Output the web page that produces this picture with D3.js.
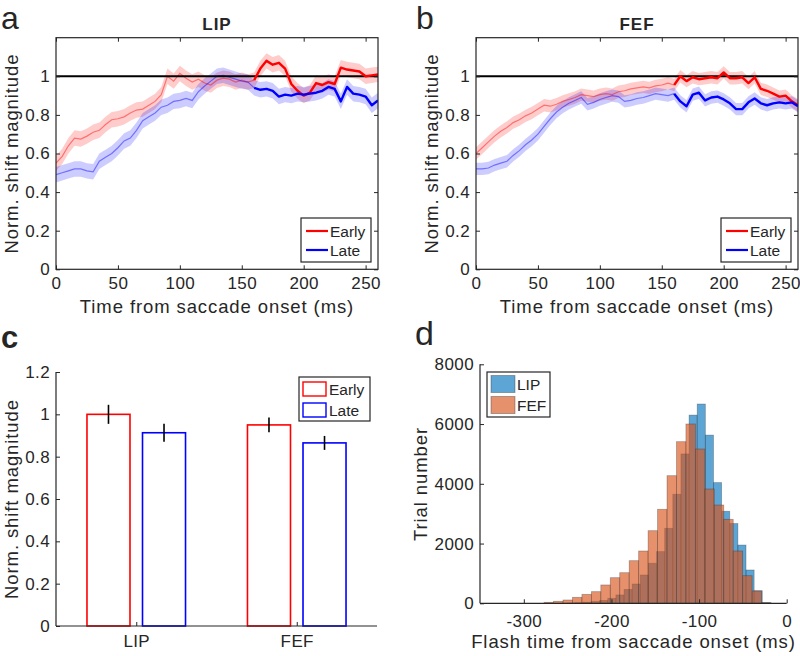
<!DOCTYPE html>
<html><head><meta charset="utf-8">
<script src="https://cdn.jsdelivr.net/npm/d3@7"></script>
<style>
body{margin:0;background:#fff;}
svg text{font-family:"Liberation Sans",Arial,Helvetica,sans-serif;fill:#262626;}
</style></head><body>
<svg id="fig" width="800" height="656" xmlns="http://www.w3.org/2000/svg"></svg>
<script>
// ---------------- DATA ----------------
const timeMs = [0,5,10,15,20,25,30,35,40,45,50,55,60,65,70,75,80,85,90,95,100,105,110,115,120,125,130,135,140,145,150,155,160,165,170,175,180,185,190,195,200,205,210,215,220,225,230,235,240,245,250,255,260];
const lipEarly = [0.55,0.585,0.64,0.68,0.675,0.69,0.71,0.72,0.75,0.775,0.78,0.79,0.81,0.825,0.83,0.85,0.87,0.905,1.0,0.975,1.015,0.99,0.97,0.985,0.965,0.955,0.98,0.99,0.985,0.97,0.98,0.97,0.98,1.04,1.08,1.06,1.07,1.04,0.96,0.925,0.9,0.915,0.965,0.955,0.97,0.96,1.045,1.035,1.03,1.025,1.0,1.005,1.01];
const lipLate  = [0.49,0.5,0.51,0.52,0.52,0.51,0.505,0.56,0.58,0.6,0.63,0.665,0.68,0.72,0.77,0.79,0.81,0.84,0.85,0.87,0.875,0.885,0.875,0.92,0.95,0.975,1.0,1.005,0.995,0.985,0.975,0.97,0.94,0.93,0.935,0.925,0.895,0.905,0.9,0.91,0.905,0.91,0.915,0.925,0.945,0.935,0.87,0.945,0.91,0.905,0.895,0.85,0.875];
const fefEarly = [0.6,0.63,0.66,0.69,0.715,0.735,0.76,0.775,0.795,0.81,0.83,0.85,0.845,0.855,0.87,0.88,0.89,0.905,0.9,0.895,0.905,0.91,0.905,0.92,0.925,0.935,0.94,0.945,0.94,0.95,0.955,0.965,0.955,1.0,0.975,0.995,0.985,0.99,0.995,0.99,1.02,0.99,0.99,0.995,0.965,0.995,0.935,0.925,0.91,0.895,0.9,0.87,0.85];
const fefLate  = [0.52,0.52,0.525,0.54,0.55,0.56,0.59,0.615,0.645,0.67,0.7,0.74,0.78,0.815,0.84,0.86,0.875,0.89,0.855,0.865,0.88,0.89,0.9,0.895,0.87,0.875,0.885,0.89,0.9,0.91,0.905,0.9,0.91,0.87,0.845,0.905,0.915,0.875,0.89,0.895,0.88,0.86,0.83,0.83,0.865,0.885,0.86,0.85,0.86,0.865,0.86,0.865,0.845];
const lipSem = 0.04;
const fefSem = 0.032;
const splitMs = 160;

const timeTicks = [0,50,100,150,200,250];
const shiftTicks = [0,0.2,0.4,0.6,0.8,1];

const barAreas = ["LIP","FEF"];
const barEarly = [1.0, 0.95];
const barLate = [0.913, 0.865];
const barEarlyErr = [0.045, 0.035];
const barLateErr = [0.042, 0.033];
const barTicks = [0,0.2,0.4,0.6,0.8,1,1.2];

const lipBinStart = -250.6, lipBinWidth = 9.28;
const lipCounts = [10,20,35,60,95,167,280,465,646,947,1340,1730,2510,3650,5000,6300,6670,5630,4040,3080,2670,1950,1115,422,20];
const fefBinStart = -276.85, fefBinWidth = 10.79;
const fefCounts = [33,67,111,200,300,390,614,858,1025,1427,1751,2431,3146,4272,5410,6002,5165,3826,3290,2811,1751,924,412,20];
const histXTicks = [-300,-200,-100,0];
const histYTicks = [0,2000,4000,6000,8000];

// ---------------- STYLE ----------------
const AX = "#262626";
const RED = "#ff0000", BLUE = "#0000ff";
const tickFont = "17px", labelFont = "18.5px";
const svg = d3.select("#fig");

function styleAxis(g){
  g.select(".domain").remove();
  g.selectAll(".tick line").attr("stroke", AX).attr("stroke-width", 1);
  g.selectAll(".tick text").style("font-size", tickFont).style("letter-spacing","0.4px").attr("fill", AX);
}

// ---------------- TIME PANELS ----------------
function timePanel(x0, x1, early, late, sem, title, letter, letterX, ylabX){
  const x = d3.scaleLinear().domain([0,260]).range([x0,x1]);
  const y = d3.scaleLinear().domain([0,1.2]).range([269.3,37.7]);
  const g = svg.append("g");
  const clipId = "clip" + letter;
  svg.append("clipPath").attr("id", clipId).append("rect")
    .attr("x", x0).attr("y", y(1.2)).attr("width", x1-x0).attr("height", y(0)-y(1.2));
  const pg = g.append("g").attr("clip-path", `url(#${clipId})`);
  const pts = s => timeMs.map((t,i)=>({t, v:s[i]}));
  const area = d3.area().x(d=>x(d.t)).y0(d=>y(d.v-sem)).y1(d=>y(d.v+sem));
  const line = d3.line().x(d=>x(d.t)).y(d=>y(d.v));
  pg.append("path").attr("d", area(pts(early))).attr("fill", RED).attr("fill-opacity", 0.2);
  pg.append("path").attr("d", area(pts(late))).attr("fill", BLUE).attr("fill-opacity", 0.2);
  pg.append("path").attr("d", line(pts(early).filter(d=>d.t<=splitMs))).attr("fill","none").attr("stroke",RED).attr("stroke-opacity",0.45).attr("stroke-width",1.2);
  pg.append("path").attr("d", line(pts(late).filter(d=>d.t<=splitMs))).attr("fill","none").attr("stroke",BLUE).attr("stroke-opacity",0.45).attr("stroke-width",1.2);
  pg.append("line").attr("x1",x0).attr("x2",x1).attr("y1",y(1)).attr("y2",y(1)).attr("stroke","#000").attr("stroke-width",2);
  pg.append("path").attr("d", line(pts(early).filter(d=>d.t>=splitMs))).attr("fill","none").attr("stroke",RED).attr("stroke-width",2.4).attr("stroke-linejoin","round");
  pg.append("path").attr("d", line(pts(late).filter(d=>d.t>=splitMs))).attr("fill","none").attr("stroke",BLUE).attr("stroke-width",2.4).attr("stroke-linejoin","round");
  // box
  g.append("rect").attr("x",x0).attr("y",y(1.2)).attr("width",x1-x0).attr("height",y(0)-y(1.2))
    .attr("fill","none").attr("stroke",AX).attr("stroke-width",1.2);
  // axes
  const ab = g.append("g").attr("transform",`translate(0,${y(0)})`)
    .call(d3.axisBottom(x).tickValues(timeTicks).tickSize(-4).tickPadding(8));
  styleAxis(ab);
  const at = g.append("g").attr("transform",`translate(0,${y(1.2)})`)
    .call(d3.axisTop(x).tickValues(timeTicks).tickSize(-4).tickFormat(""));
  styleAxis(at);
  const al = g.append("g").attr("transform",`translate(${x0},0)`)
    .call(d3.axisLeft(y).tickValues(shiftTicks).tickSize(-4).tickPadding(6).tickFormat(d3.format("~g")));
  styleAxis(al);
  const ar = g.append("g").attr("transform",`translate(${x1},0)`)
    .call(d3.axisRight(y).tickValues(shiftTicks).tickSize(-4).tickFormat(""));
  styleAxis(ar);
  // labels
  g.append("text").attr("x",(x0+x1)/2).attr("y",313).attr("text-anchor","middle")
    .style("font-size",labelFont).style("letter-spacing","0.9px").text("Time from saccade onset (ms)");
  g.append("text").attr("transform",`translate(${ylabX},${(y(0)+y(1.2))/2}) rotate(-90)`).attr("text-anchor","middle")
    .style("font-size",labelFont).style("letter-spacing","0.9px").text("Norm. shift magnitude");
  g.append("text").attr("x",(x0+x1)/2).attr("y",30).attr("text-anchor","middle")
    .style("font-size","17px").style("font-weight","bold").style("letter-spacing","1px").attr("fill","#000").text(title);
  g.append("text").attr("x",letterX).attr("y",29).style("font-size","32px").attr("fill","#000").text(letter);
  // legend
  const lx = x1 - 77, ly = 218;
  g.append("rect").attr("x",lx).attr("y",ly).attr("width",70).attr("height",44).attr("fill","#fff").attr("stroke",AX).attr("stroke-width",1.2);
  [["Early",RED],["Late",BLUE]].forEach((e,i)=>{
    const yy = ly + 13 + i*19;
    g.append("line").attr("x1",lx+5).attr("x2",lx+27).attr("y1",yy).attr("y2",yy).attr("stroke",e[1]).attr("stroke-width",2.2);
    g.append("text").attr("x",lx+29).attr("y",yy+5.5).style("font-size","15.5px").attr("fill","#000").text(e[0]);
  });
}
timePanel(56, 378, lipEarly, lipLate, lipSem, "LIP", "a", 1, 17.5);
timePanel(476, 798, fefEarly, fefLate, fefSem, "FEF", "b", 416, 438);

// ---------------- PANEL C: BARS ----------------
(function(){
  const x = d3.scaleLinear().domain([0.5,2.5]).range([56,377]);
  const y = d3.scaleLinear().domain([0,1.2]).range([626,372]);
  const g = svg.append("g");
  const bw = 0.268, off = 0.173;
  barAreas.forEach((a,i)=>{
    const c = i+1;
    [[barEarly[i],barEarlyErr[i],-off,RED],[barLate[i],barLateErr[i],off,BLUE]].forEach(b=>{
      g.append("rect").attr("x",x(c+b[2]-bw/2)).attr("y",y(b[0])).attr("width",x(c+b[2]+bw/2)-x(c+b[2]-bw/2))
        .attr("height",y(0)-y(b[0])).attr("fill","none").attr("stroke",b[3]).attr("stroke-width",1.6);
      g.append("line").attr("x1",x(c+b[2])).attr("x2",x(c+b[2])).attr("y1",y(b[0]-b[1])).attr("y2",y(b[0]+b[1]))
        .attr("stroke","#000").attr("stroke-width",1.6);
    });
  });
  g.append("line").attr("x1",56).attr("x2",377).attr("y1",626).attr("y2",626).attr("stroke",AX).attr("stroke-width",1.2);
  g.append("line").attr("x1",56).attr("x2",56).attr("y1",626).attr("y2",372).attr("stroke",AX).attr("stroke-width",1.2);
  const ab = g.append("g").attr("transform","translate(0,626)")
    .call(d3.axisBottom(x).tickValues([1,2]).tickSize(-4).tickPadding(9).tickFormat((d,i)=>barAreas[i]));
  styleAxis(ab);
  const al = g.append("g").attr("transform","translate(56,0)")
    .call(d3.axisLeft(y).tickValues(barTicks).tickSize(-4).tickPadding(6).tickFormat(d3.format("~g")));
  styleAxis(al);
  g.append("text").attr("transform",`translate(17.5,499) rotate(-90)`).attr("text-anchor","middle")
    .style("font-size",labelFont).style("letter-spacing","0.9px").text("Norm. shift magnitude");
  g.append("text").attr("x",1).attr("y",348).style("font-size","31px").style("font-weight","bold").attr("fill","#000").text("c");
  const lx=299, ly=377;
  g.append("rect").attr("x",lx).attr("y",ly).attr("width",71).attr("height",44).attr("fill","#fff").attr("stroke",AX).attr("stroke-width",1.2);
  [["Early",RED],["Late",BLUE]].forEach((e,i)=>{
    const yy = ly + 5 + i*21;
    g.append("rect").attr("x",lx+4).attr("y",yy).attr("width",23).attr("height",14).attr("fill","#fff").attr("stroke",e[1]).attr("stroke-width",1.4);
    g.append("text").attr("x",lx+30).attr("y",yy+12.5).style("font-size","15.5px").attr("fill","#000").text(e[0]);
  });
})();

// ---------------- PANEL D: HISTOGRAM ----------------
(function(){
  const x = d3.scaleLinear().domain([-350,0]).range([480,786.7]);
  const y = d3.scaleLinear().domain([0,8000]).range([603.3,364.3]);
  const g = svg.append("g");
  const hist = (start,w,counts,col)=>{
    g.append("g").selectAll("rect").data(counts).join("rect")
      .attr("x",(d,i)=>x(start+i*w)).attr("width",(d,i)=>x(start+(i+1)*w)-x(start+i*w))
      .attr("y",d=>y(d)).attr("height",d=>y(0)-y(d))
      .attr("fill",col).attr("fill-opacity",0.64).attr("stroke","#262626").attr("stroke-opacity",0.35).attr("stroke-width",0.8);
  };
  hist(lipBinStart, lipBinWidth, lipCounts, "#0072BD");
  hist(fefBinStart, fefBinWidth, fefCounts, "#D95319");
  g.append("line").attr("x1",480).attr("x2",786.7).attr("y1",603.3).attr("y2",603.3).attr("stroke",AX).attr("stroke-width",1.2);
  g.append("line").attr("x1",480).attr("x2",480).attr("y1",603.3).attr("y2",364.3).attr("stroke",AX).attr("stroke-width",1.2);
  const ab = g.append("g").attr("transform","translate(0,603.3)")
    .call(d3.axisBottom(x).tickValues(histXTicks).tickSize(-4).tickPadding(12).tickFormat(d=>String(d)));
  styleAxis(ab);
  const al = g.append("g").attr("transform","translate(480,0)")
    .call(d3.axisLeft(y).tickValues(histYTicks).tickSize(-4).tickPadding(6).tickFormat(d=>String(d)));
  styleAxis(al);
  g.append("text").attr("x",633.5).attr("y",648).attr("text-anchor","middle")
    .style("font-size",labelFont).style("letter-spacing","0.9px").text("Flash time from saccade onset (ms)");
  g.append("text").attr("transform",`translate(427,484) rotate(-90)`).attr("text-anchor","middle")
    .style("font-size",labelFont).style("letter-spacing","0.9px").text("Trial number");
  g.append("text").attr("x",415).attr("y",345).style("font-size","34px").attr("fill","#000").text("d");
  const lx=487, ly=372;
  g.append("rect").attr("x",lx).attr("y",ly).attr("width",63).attr("height",45).attr("fill","#fff").attr("stroke",AX).attr("stroke-width",1.2);
  [["LIP","#0072BD"],["FEF","#D95319"]].forEach((e,i)=>{
    const yy = ly + 3.5 + i*21;
    g.append("rect").attr("x",lx+4).attr("y",yy).attr("width",24).attr("height",17).attr("fill",e[1]).attr("fill-opacity",0.64).attr("stroke","#262626").attr("stroke-opacity",0.35);
    g.append("text").attr("x",lx+30).attr("y",yy+14).style("font-size","15.5px").attr("fill","#000").text(e[0]);
  });
})();
</script>
</body></html>
